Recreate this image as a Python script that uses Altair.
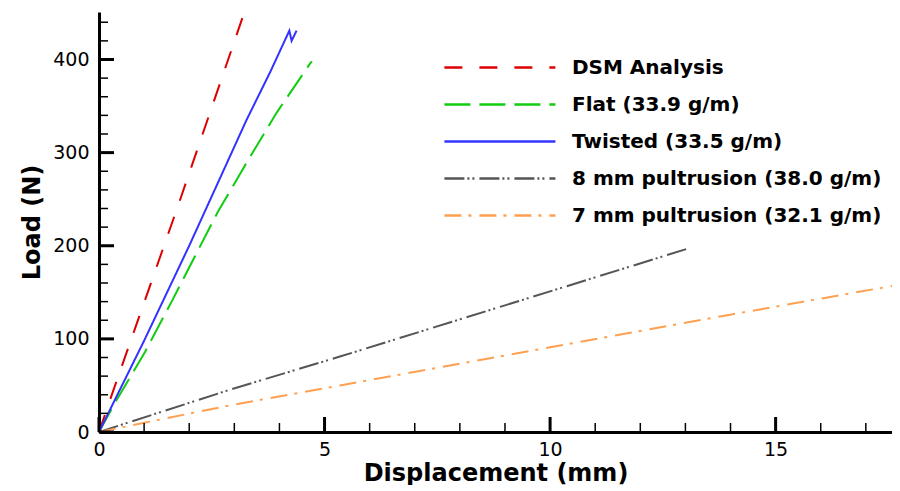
import altair as alt
import pandas as pd

series_names = ["DSM Analysis", "Flat (33.9 g/m)", "Twisted (33.5 g/m)",
                "8 mm pultrusion (38.0 g/m)", "7 mm pultrusion (32.1 g/m)"]

dsm_x = [0.0, 0.32, 1.76, 3.09, 3.5]
dsm_y = [0, 45, 244, 432, 490]

flat_x = [0.0, 0.35, 1.02, 1.61, 2.13, 2.63, 3.27, 3.94, 4.67, 4.72]
flat_y = [0, 31, 86, 140, 189, 236, 289, 343, 395, 398]

twisted_x = [0.0, 1.0, 2.0, 3.27, 3.8, 4.22, 4.27, 4.38]
twisted_y = [0, 98, 200, 335, 387, 431, 420, 431]

pult8_x = [0.0, 2.94, 5.34, 9.0, 13.06]
pult8_y = [0, 46, 81, 136, 197]

pult7_x = [0.0, 2.94, 5.34, 10.0, 14.0, 17.72]
pult7_y = [0, 29, 50, 91, 126, 158]

x_major = [0, 5, 10, 15]
x_minor = [1, 2, 3, 4, 6, 7, 8, 9, 11, 12, 13, 14, 16, 17]
y_major = [0, 100, 200, 300, 400]
y_minor = [20, 40, 60, 80, 120, 140, 160, 180, 220, 240, 260, 280, 320, 340, 360, 380, 420, 440]

colors = ["#dd0000", "#11cc11", "#3333ff", "#555555", "#ffa050"]
dashes = [[18, 17], [26, 9], [1, 0], [20, 3, 2, 3, 2, 5], [17, 7, 3, 8]]

rows = []
for name, xs, ys in zip(series_names,
                        [dsm_x, flat_x, twisted_x, pult8_x, pult7_x],
                        [dsm_y, flat_y, twisted_y, pult8_y, pult7_y]):
    for i, (xv, yv) in enumerate(zip(xs, ys)):
        rows.append({"series": name, "x": xv, "y": yv, "order": i})
df = pd.DataFrame(rows)

W, H = 793, 420
FONT = "DejaVu Sans"

xscale = alt.Scale(domain=[0, 17.58], nice=False, zero=False)
yscale = alt.Scale(domain=[0, 451], nice=False, zero=False)

xaxis = alt.Axis(
    values=x_major, format="d", ticks=False, tickSize=0, grid=False,
    domainWidth=3, domainColor="black", labelFlush=False,
    labelFont=FONT, labelFontSize=19, labelColor="black", labelPadding=8,
    title="Displacement (mm)", titleFont=FONT, titleFontSize=24,
    titleFontWeight="bold", titleColor="black", titlePadding=2)
yaxis = alt.Axis(
    values=y_major, format="d", ticks=False, tickSize=0, grid=False,
    domainWidth=3, domainColor="black", labelFlush=False,
    labelFont=FONT, labelFontSize=19, labelColor="black", labelPadding=10,
    title="Load (N)", titleFont=FONT, titleFontSize=24,
    titleFontWeight="bold", titleColor="black", titlePadding=8)

legend = alt.Legend(
    title=None, orient="none", legendX=344, legendY=43,
    symbolType="M-1,0H9", symbolSize=493, symbolStrokeWidth=2.5,
    labelFont=FONT, labelFontWeight="bold", labelFontSize=20, labelColor="black",
    labelOffset=104, rowPadding=14, labelLimit=400,
)

lines = alt.Chart(df).mark_line(strokeWidth=2, clip=True).encode(
    x=alt.X("x:Q", scale=xscale, axis=xaxis),
    y=alt.Y("y:Q", scale=yscale, axis=yaxis),
    color=alt.Color("series:N", scale=alt.Scale(domain=series_names, range=colors), legend=legend),
    strokeDash=alt.StrokeDash("series:N", scale=alt.Scale(domain=series_names, range=dashes), legend=legend),
    order="order:Q",
)

def xticks(vals, length, width):
    return alt.Chart(pd.DataFrame({"x": vals})).mark_rule(color="black", strokeWidth=width).encode(
        x=alt.X("x:Q", scale=xscale, axis=xaxis),
        y=alt.value(H), y2=alt.value(H - length))

def yticks(vals, length, width):
    return alt.Chart(pd.DataFrame({"y": vals})).mark_rule(color="black", strokeWidth=width).encode(
        y=alt.Y("y:Q", scale=yscale, axis=yaxis),
        x=alt.value(0), x2=alt.value(length))

chart = alt.layer(
    lines,
    xticks(x_major, 15, 3), xticks(x_minor, 9, 1.5),
    yticks(y_major, 15, 3), yticks(y_minor, 9, 1.5),
).properties(
    width=W, height=H,
    padding={"left": 12, "top": 4, "right": 0, "bottom": 0},
    background="white",
).configure_view(stroke=None)

chart.save("out.html", embed_options={"renderer": "svg", "actions": False})
